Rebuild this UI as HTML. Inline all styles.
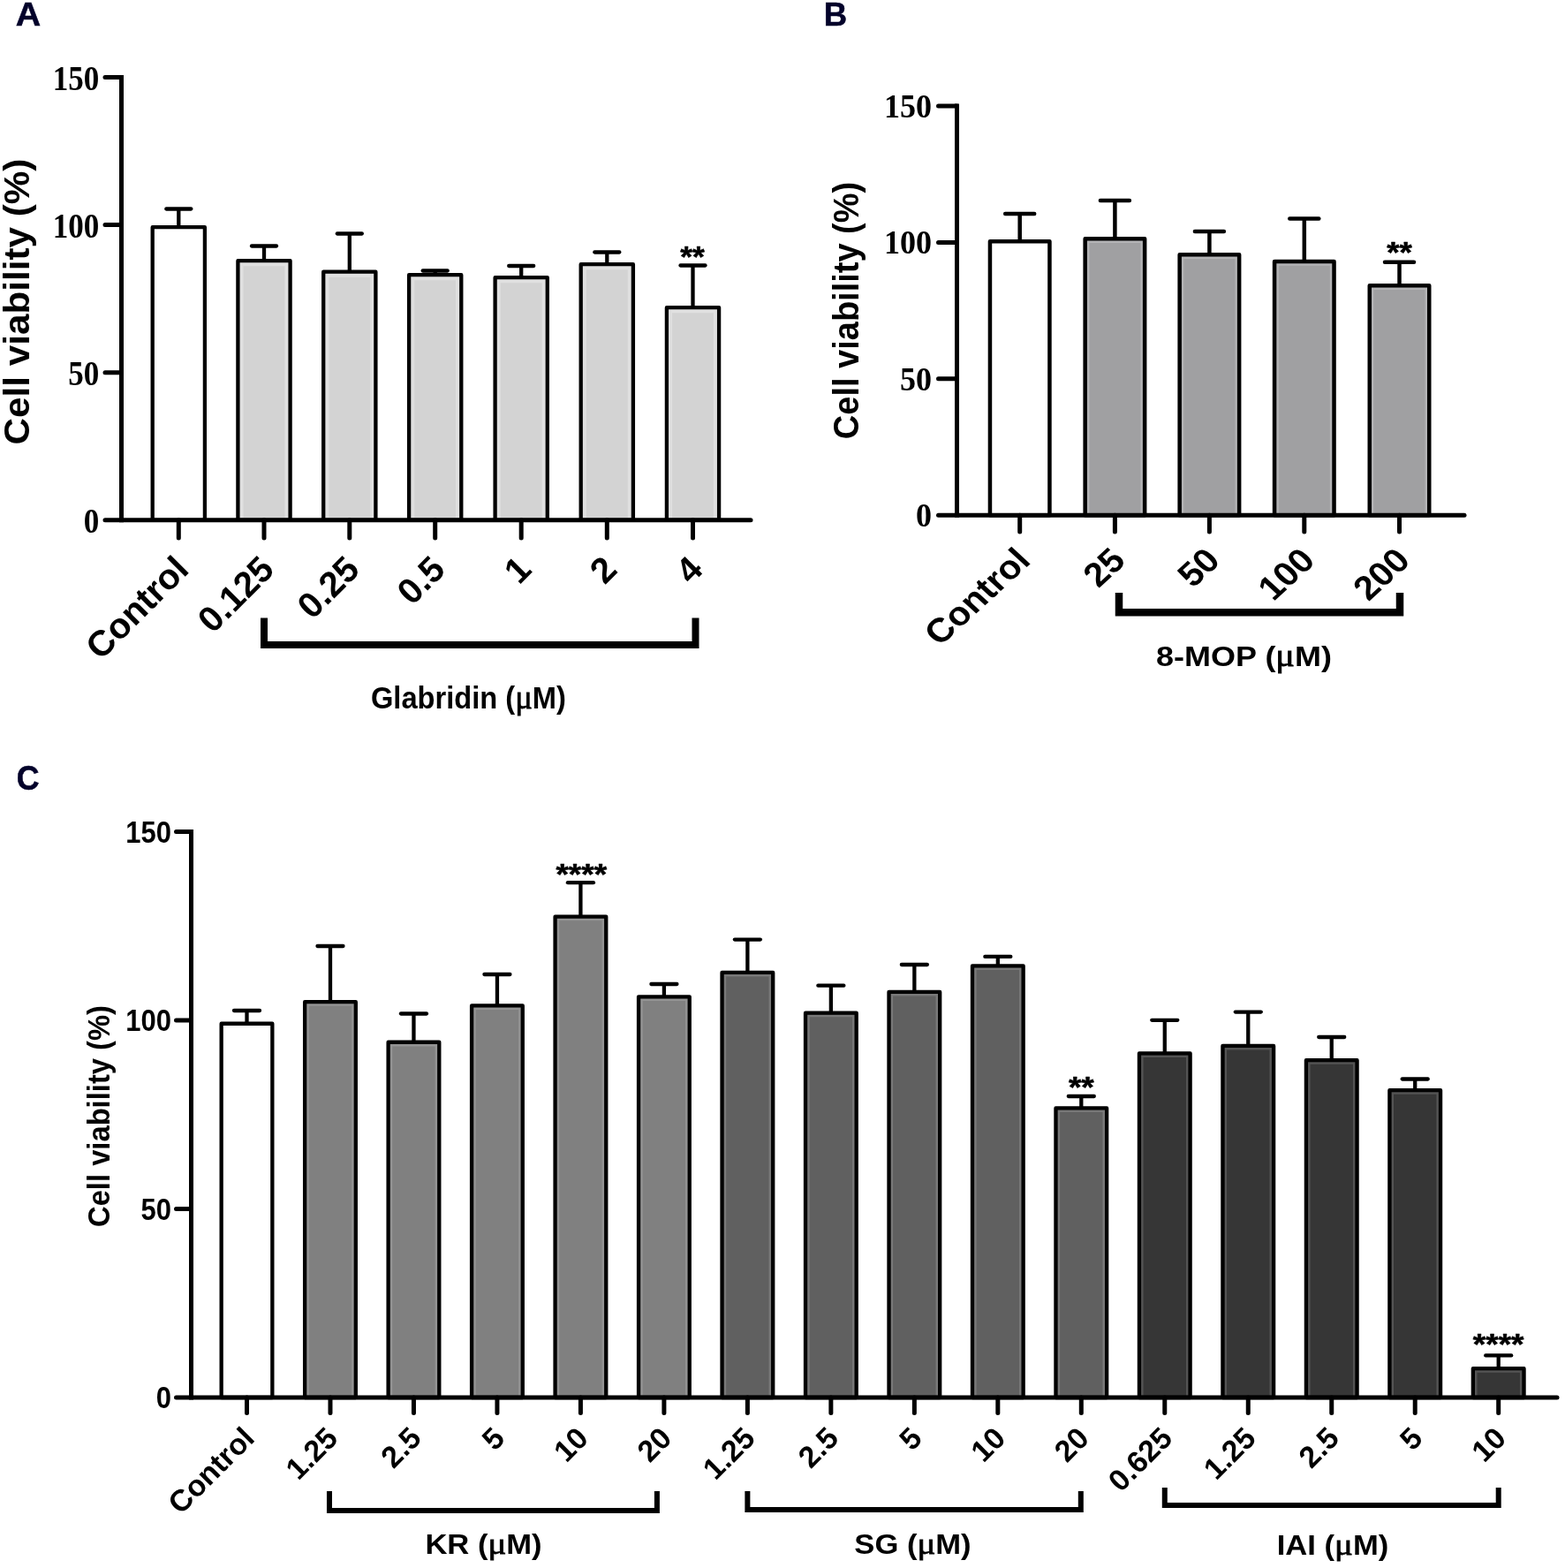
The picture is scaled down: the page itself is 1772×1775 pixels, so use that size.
<!DOCTYPE html>
<html lang="en"><head><meta charset="utf-8"><title>Cell viability</title>
<style>html,body{margin:0;padding:0;background:#fff}svg{display:block}</style></head><body>
<svg width="1772" height="1775" viewBox="0 0 1772 1775">
<rect width="1772" height="1775" fill="#fff"/>
<text transform="translate(17.8 29.1) scale(1.05 1)" font-family='"Liberation Sans", Arial, sans-serif' font-size="37.5" font-weight="bold" text-anchor="start" fill="#03022a" stroke="#03022a" stroke-width="0.5">A</text>
<text transform="translate(932.7 29.1) scale(0.975 1)" font-family='"Liberation Sans", Arial, sans-serif' font-size="37.5" font-weight="bold" text-anchor="start" fill="#03022a" stroke="#03022a" stroke-width="0.5">B</text>
<text transform="translate(18.8 894) scale(0.91 1)" font-family='"Liberation Sans", Arial, sans-serif' font-size="39.3" font-weight="bold" text-anchor="start" fill="#03022a" stroke="#03022a" stroke-width="0.5">C</text>
<g id="panelA">
<rect x="172.7" y="257.15" width="59.2" height="331.65" fill="#fff"/>
<rect x="172.7" y="257.15" width="59.2" height="331.65" fill="none" stroke="#000" stroke-width="4.3" stroke-linejoin="round"/>
<rect x="269.4" y="295.15" width="59.2" height="293.65" fill="#d3d3d3"/>
<path d="M273.55 588.8 V299.3 H324.45 V588.8" fill="none" stroke="#e0e0e0" stroke-width="4"/>
<rect x="269.4" y="295.15" width="59.2" height="293.65" fill="none" stroke="#000" stroke-width="4.3" stroke-linejoin="round"/>
<rect x="366.2" y="307.65" width="59.2" height="281.15" fill="#d3d3d3"/>
<path d="M370.35 588.8 V311.8 H421.25 V588.8" fill="none" stroke="#e0e0e0" stroke-width="4"/>
<rect x="366.2" y="307.65" width="59.2" height="281.15" fill="none" stroke="#000" stroke-width="4.3" stroke-linejoin="round"/>
<rect x="463.1" y="311.15" width="59.2" height="277.65" fill="#d3d3d3"/>
<path d="M467.25 588.8 V315.3 H518.15 V588.8" fill="none" stroke="#e0e0e0" stroke-width="4"/>
<rect x="463.1" y="311.15" width="59.2" height="277.65" fill="none" stroke="#000" stroke-width="4.3" stroke-linejoin="round"/>
<rect x="560.6" y="314.15" width="59.2" height="274.65" fill="#d3d3d3"/>
<path d="M564.75 588.8 V318.3 H615.65 V588.8" fill="none" stroke="#e0e0e0" stroke-width="4"/>
<rect x="560.6" y="314.15" width="59.2" height="274.65" fill="none" stroke="#000" stroke-width="4.3" stroke-linejoin="round"/>
<rect x="657.7" y="299.15" width="59.2" height="289.65" fill="#d3d3d3"/>
<path d="M661.85 588.8 V303.3 H712.75 V588.8" fill="none" stroke="#e0e0e0" stroke-width="4"/>
<rect x="657.7" y="299.15" width="59.2" height="289.65" fill="none" stroke="#000" stroke-width="4.3" stroke-linejoin="round"/>
<rect x="754.9" y="348.15" width="59.2" height="240.65" fill="#d3d3d3"/>
<path d="M759.05 588.8 V352.3 H809.95 V588.8" fill="none" stroke="#e0e0e0" stroke-width="4"/>
<rect x="754.9" y="348.15" width="59.2" height="240.65" fill="none" stroke="#000" stroke-width="4.3" stroke-linejoin="round"/>
<line x1="202.3" y1="236.5" x2="202.3" y2="257" stroke="#000" stroke-width="4.3" stroke-linecap="butt"/>
<line x1="188.3" y1="236.5" x2="216.3" y2="236.5" stroke="#000" stroke-width="4.3" stroke-linecap="round"/>
<line x1="299" y1="278.5" x2="299" y2="295" stroke="#000" stroke-width="4.3" stroke-linecap="butt"/>
<line x1="285" y1="278.5" x2="313" y2="278.5" stroke="#000" stroke-width="4.3" stroke-linecap="round"/>
<line x1="395.8" y1="264.5" x2="395.8" y2="307.5" stroke="#000" stroke-width="4.3" stroke-linecap="butt"/>
<line x1="381.8" y1="264.5" x2="409.8" y2="264.5" stroke="#000" stroke-width="4.3" stroke-linecap="round"/>
<line x1="492.7" y1="306.5" x2="492.7" y2="311" stroke="#000" stroke-width="4.3" stroke-linecap="butt"/>
<line x1="478.7" y1="306.5" x2="506.7" y2="306.5" stroke="#000" stroke-width="4.3" stroke-linecap="round"/>
<line x1="590.2" y1="301" x2="590.2" y2="314" stroke="#000" stroke-width="4.3" stroke-linecap="butt"/>
<line x1="576.2" y1="301" x2="604.2" y2="301" stroke="#000" stroke-width="4.3" stroke-linecap="round"/>
<line x1="687.3" y1="285.5" x2="687.3" y2="299" stroke="#000" stroke-width="4.3" stroke-linecap="butt"/>
<line x1="673.3" y1="285.5" x2="701.3" y2="285.5" stroke="#000" stroke-width="4.3" stroke-linecap="round"/>
<line x1="784.5" y1="300.5" x2="784.5" y2="348" stroke="#000" stroke-width="4.3" stroke-linecap="butt"/>
<line x1="770.5" y1="300.5" x2="798.5" y2="300.5" stroke="#000" stroke-width="4.3" stroke-linecap="round"/>
<line x1="137.5" y1="85" x2="137.5" y2="591.3" stroke="#000" stroke-width="5" stroke-linecap="butt"/>
<line x1="119" y1="588.8" x2="850" y2="588.8" stroke="#000" stroke-width="5" stroke-linecap="round"/>
<line x1="119" y1="421.7" x2="137.5" y2="421.7" stroke="#000" stroke-width="5" stroke-linecap="round"/>
<line x1="119" y1="254.6" x2="137.5" y2="254.6" stroke="#000" stroke-width="5" stroke-linecap="round"/>
<line x1="119" y1="87.5" x2="137.5" y2="87.5" stroke="#000" stroke-width="5" stroke-linecap="round"/>
<line x1="202.3" y1="588.8" x2="202.3" y2="609" stroke="#000" stroke-width="5" stroke-linecap="round"/>
<line x1="299" y1="588.8" x2="299" y2="609" stroke="#000" stroke-width="5" stroke-linecap="round"/>
<line x1="395.8" y1="588.8" x2="395.8" y2="609" stroke="#000" stroke-width="5" stroke-linecap="round"/>
<line x1="492.7" y1="588.8" x2="492.7" y2="609" stroke="#000" stroke-width="5" stroke-linecap="round"/>
<line x1="590.2" y1="588.8" x2="590.2" y2="609" stroke="#000" stroke-width="5" stroke-linecap="round"/>
<line x1="687.3" y1="588.8" x2="687.3" y2="609" stroke="#000" stroke-width="5" stroke-linecap="round"/>
<line x1="784.5" y1="588.8" x2="784.5" y2="609" stroke="#000" stroke-width="5" stroke-linecap="round"/>
<text transform="translate(112.3 603.4) scale(0.885 1)" font-family='"Liberation Serif", "Times New Roman", serif' font-size="39.6" font-weight="bold" text-anchor="end" fill="#000">0</text>
<text transform="translate(112.3 436.3) scale(0.885 1)" font-family='"Liberation Serif", "Times New Roman", serif' font-size="39.6" font-weight="bold" text-anchor="end" fill="#000">50</text>
<text transform="translate(112.3 269.2) scale(0.885 1)" font-family='"Liberation Serif", "Times New Roman", serif' font-size="39.6" font-weight="bold" text-anchor="end" fill="#000">100</text>
<text transform="translate(112.3 102.1) scale(0.885 1)" font-family='"Liberation Serif", "Times New Roman", serif' font-size="39.6" font-weight="bold" text-anchor="end" fill="#000">150</text>
<text transform="translate(215.8 646.7) rotate(-45)" font-family='"Liberation Sans", Arial, sans-serif' font-size="40.5" font-weight="bold" text-anchor="end" fill="#000">Control</text>
<text transform="translate(312.5 646.7) rotate(-45)" font-family='"Liberation Sans", Arial, sans-serif' font-size="40.5" font-weight="bold" text-anchor="end" fill="#000">0.125</text>
<text transform="translate(409.3 646.7) rotate(-45)" font-family='"Liberation Sans", Arial, sans-serif' font-size="40.5" font-weight="bold" text-anchor="end" fill="#000">0.25</text>
<text transform="translate(506.2 646.7) rotate(-45)" font-family='"Liberation Sans", Arial, sans-serif' font-size="40.5" font-weight="bold" text-anchor="end" fill="#000">0.5</text>
<text transform="translate(603.7 646.7) rotate(-45)" font-family='"Liberation Sans", Arial, sans-serif' font-size="40.5" font-weight="bold" text-anchor="end" fill="#000">1</text>
<text transform="translate(700.8 646.7) rotate(-45)" font-family='"Liberation Sans", Arial, sans-serif' font-size="40.5" font-weight="bold" text-anchor="end" fill="#000">2</text>
<text transform="translate(798 646.7) rotate(-45)" font-family='"Liberation Sans", Arial, sans-serif' font-size="40.5" font-weight="bold" text-anchor="end" fill="#000">4</text>
<text transform="translate(33.3 341.5) rotate(-90) scale(1.03 1)" font-family='"Liberation Sans", Arial, sans-serif' font-size="41" font-weight="bold" text-anchor="middle" fill="#000">Cell viability (%)</text>
<path d="M299 699.5 V730 H787.5 V699.5" fill="none" stroke="#000" stroke-width="8" stroke-linejoin="miter"/>
<text transform="translate(530.4 802.3) scale(0.947 1)" font-family='"Liberation Sans", Arial, sans-serif' font-size="34.5" font-weight="bold" text-anchor="middle" fill="#000">Glabridin (<tspan font-family='"Liberation Serif", "Times New Roman", serif' font-weight="normal" font-size="112%" stroke="#000" stroke-width="0.8">μ</tspan>M)</text>
<text transform="translate(784 302.24) scale(1.04 1)" font-family='"Liberation Sans", Arial, sans-serif' font-size="34" font-weight="bold" text-anchor="middle" fill="#000" stroke="#000" stroke-width="0.6" stroke-linejoin="round">**</text>
</g>
<g id="panelB">
<rect x="1120.95" y="273.25" width="67.5" height="310.05" fill="#fff"/>
<rect x="1120.95" y="273.25" width="67.5" height="310.05" fill="none" stroke="#000" stroke-width="4.5" stroke-linejoin="round"/>
<rect x="1228.65" y="270.25" width="67.5" height="313.05" fill="#a0a0a2"/>
<path d="M1232.15 583.3 V273.75 H1292.65 V583.3" fill="none" stroke="#b3b3b5" stroke-width="2.5"/>
<rect x="1228.65" y="270.25" width="67.5" height="313.05" fill="none" stroke="#000" stroke-width="4.5" stroke-linejoin="round"/>
<rect x="1335.65" y="288.25" width="67.5" height="295.05" fill="#a0a0a2"/>
<path d="M1339.15 583.3 V291.75 H1399.65 V583.3" fill="none" stroke="#b3b3b5" stroke-width="2.5"/>
<rect x="1335.65" y="288.25" width="67.5" height="295.05" fill="none" stroke="#000" stroke-width="4.5" stroke-linejoin="round"/>
<rect x="1443.05" y="295.95" width="67.5" height="287.35" fill="#a0a0a2"/>
<path d="M1446.55 583.3 V299.45 H1507.05 V583.3" fill="none" stroke="#b3b3b5" stroke-width="2.5"/>
<rect x="1443.05" y="295.95" width="67.5" height="287.35" fill="none" stroke="#000" stroke-width="4.5" stroke-linejoin="round"/>
<rect x="1550.75" y="323.25" width="67.5" height="260.05" fill="#a0a0a2"/>
<path d="M1554.25 583.3 V326.75 H1614.75 V583.3" fill="none" stroke="#b3b3b5" stroke-width="2.5"/>
<rect x="1550.75" y="323.25" width="67.5" height="260.05" fill="none" stroke="#000" stroke-width="4.5" stroke-linejoin="round"/>
<line x1="1154.7" y1="242" x2="1154.7" y2="273" stroke="#000" stroke-width="4.5" stroke-linecap="butt"/>
<line x1="1138.2" y1="242" x2="1171.2" y2="242" stroke="#000" stroke-width="4.5" stroke-linecap="round"/>
<line x1="1262.4" y1="227" x2="1262.4" y2="270" stroke="#000" stroke-width="4.5" stroke-linecap="butt"/>
<line x1="1245.9" y1="227" x2="1278.9" y2="227" stroke="#000" stroke-width="4.5" stroke-linecap="round"/>
<line x1="1369.4" y1="262" x2="1369.4" y2="288" stroke="#000" stroke-width="4.5" stroke-linecap="butt"/>
<line x1="1352.9" y1="262" x2="1385.9" y2="262" stroke="#000" stroke-width="4.5" stroke-linecap="round"/>
<line x1="1476.8" y1="247.5" x2="1476.8" y2="295.7" stroke="#000" stroke-width="4.5" stroke-linecap="butt"/>
<line x1="1460.3" y1="247.5" x2="1493.3" y2="247.5" stroke="#000" stroke-width="4.5" stroke-linecap="round"/>
<line x1="1584.5" y1="296.7" x2="1584.5" y2="323" stroke="#000" stroke-width="4.5" stroke-linecap="butt"/>
<line x1="1568" y1="296.7" x2="1601" y2="296.7" stroke="#000" stroke-width="4.5" stroke-linecap="round"/>
<line x1="1083.5" y1="117.5" x2="1083.5" y2="585.8" stroke="#000" stroke-width="5" stroke-linecap="butt"/>
<line x1="1062.5" y1="583.3" x2="1658" y2="583.3" stroke="#000" stroke-width="5" stroke-linecap="round"/>
<line x1="1062.5" y1="428.87" x2="1083.5" y2="428.87" stroke="#000" stroke-width="5" stroke-linecap="round"/>
<line x1="1062.5" y1="274.43" x2="1083.5" y2="274.43" stroke="#000" stroke-width="5" stroke-linecap="round"/>
<line x1="1062.5" y1="120" x2="1083.5" y2="120" stroke="#000" stroke-width="5" stroke-linecap="round"/>
<line x1="1154.7" y1="583.3" x2="1154.7" y2="602" stroke="#000" stroke-width="5" stroke-linecap="round"/>
<line x1="1262.4" y1="583.3" x2="1262.4" y2="602" stroke="#000" stroke-width="5" stroke-linecap="round"/>
<line x1="1369.4" y1="583.3" x2="1369.4" y2="602" stroke="#000" stroke-width="5" stroke-linecap="round"/>
<line x1="1476.8" y1="583.3" x2="1476.8" y2="602" stroke="#000" stroke-width="5" stroke-linecap="round"/>
<line x1="1584.5" y1="583.3" x2="1584.5" y2="602" stroke="#000" stroke-width="5" stroke-linecap="round"/>
<text transform="translate(1055 596.3) scale(0.946 1)" font-family='"Liberation Serif", "Times New Roman", serif' font-size="38.1" font-weight="bold" text-anchor="end" fill="#000">0</text>
<text transform="translate(1055 441.87) scale(0.946 1)" font-family='"Liberation Serif", "Times New Roman", serif' font-size="38.1" font-weight="bold" text-anchor="end" fill="#000">50</text>
<text transform="translate(1055 287.43) scale(0.946 1)" font-family='"Liberation Serif", "Times New Roman", serif' font-size="38.1" font-weight="bold" text-anchor="end" fill="#000">100</text>
<text transform="translate(1055 133) scale(0.946 1)" font-family='"Liberation Serif", "Times New Roman", serif' font-size="38.1" font-weight="bold" text-anchor="end" fill="#000">150</text>
<text transform="translate(1168.7 636.4) scale(1.09 1) rotate(-45)" font-family='"Liberation Sans", Arial, sans-serif' font-size="38.2" font-weight="bold" text-anchor="end" fill="#000">Control</text>
<text transform="translate(1276.4 636.4) scale(1.09 1) rotate(-45)" font-family='"Liberation Sans", Arial, sans-serif' font-size="38.2" font-weight="bold" text-anchor="end" fill="#000">25</text>
<text transform="translate(1383.4 636.4) scale(1.09 1) rotate(-45)" font-family='"Liberation Sans", Arial, sans-serif' font-size="38.2" font-weight="bold" text-anchor="end" fill="#000">50</text>
<text transform="translate(1490.8 636.4) scale(1.09 1) rotate(-45)" font-family='"Liberation Sans", Arial, sans-serif' font-size="38.2" font-weight="bold" text-anchor="end" fill="#000">100</text>
<text transform="translate(1598.5 636.4) scale(1.09 1) rotate(-45)" font-family='"Liberation Sans", Arial, sans-serif' font-size="38.2" font-weight="bold" text-anchor="end" fill="#000">200</text>
<text transform="translate(972 351.5) rotate(-90) scale(0.95 1)" font-family='"Liberation Sans", Arial, sans-serif' font-size="40" font-weight="bold" text-anchor="middle" fill="#000">Cell viability (%)</text>
<path d="M1267 671 V693.3 H1585 V671" fill="none" stroke="#000" stroke-width="8.5" stroke-linejoin="miter"/>
<text transform="translate(1408.5 754.4) scale(1.125 1)" font-family='"Liberation Sans", Arial, sans-serif' font-size="32" font-weight="bold" text-anchor="middle" fill="#000">8-MOP (<tspan font-family='"Liberation Serif", "Times New Roman", serif' font-weight="normal" font-size="112%" stroke="#000" stroke-width="0.8">μ</tspan>M)</text>
<text transform="translate(1584.5 296.74) scale(1.08 1)" font-family='"Liberation Sans", Arial, sans-serif' font-size="34" font-weight="bold" text-anchor="middle" fill="#000" stroke="#000" stroke-width="0.6" stroke-linejoin="round">**</text>
</g>
<g id="panelC">
<rect x="250.65" y="1158.75" width="57.7" height="423.25" fill="#fff"/>
<rect x="250.65" y="1158.75" width="57.7" height="423.25" fill="none" stroke="#000" stroke-width="4.3" stroke-linejoin="round"/>
<rect x="345.13" y="1134.15" width="57.7" height="447.85" fill="#808080"/>
<path d="M348.53 1582 V1137.55 H399.43 V1582" fill="none" stroke="#939393" stroke-width="2.5"/>
<rect x="345.13" y="1134.15" width="57.7" height="447.85" fill="none" stroke="#000" stroke-width="4.3" stroke-linejoin="round"/>
<rect x="439.61" y="1179.75" width="57.7" height="402.25" fill="#808080"/>
<path d="M443.01 1582 V1183.15 H493.91 V1582" fill="none" stroke="#939393" stroke-width="2.5"/>
<rect x="439.61" y="1179.75" width="57.7" height="402.25" fill="none" stroke="#000" stroke-width="4.3" stroke-linejoin="round"/>
<rect x="534.09" y="1138.45" width="57.7" height="443.55" fill="#808080"/>
<path d="M537.49 1582 V1141.85 H588.39 V1582" fill="none" stroke="#939393" stroke-width="2.5"/>
<rect x="534.09" y="1138.45" width="57.7" height="443.55" fill="none" stroke="#000" stroke-width="4.3" stroke-linejoin="round"/>
<rect x="628.57" y="1037.65" width="57.7" height="544.35" fill="#808080"/>
<path d="M631.97 1582 V1041.05 H682.87 V1582" fill="none" stroke="#939393" stroke-width="2.5"/>
<rect x="628.57" y="1037.65" width="57.7" height="544.35" fill="none" stroke="#000" stroke-width="4.3" stroke-linejoin="round"/>
<rect x="723.05" y="1128.35" width="57.7" height="453.65" fill="#808080"/>
<path d="M726.45 1582 V1131.75 H777.35 V1582" fill="none" stroke="#939393" stroke-width="2.5"/>
<rect x="723.05" y="1128.35" width="57.7" height="453.65" fill="none" stroke="#000" stroke-width="4.3" stroke-linejoin="round"/>
<rect x="817.53" y="1100.95" width="57.7" height="481.05" fill="#606060"/>
<path d="M820.93 1582 V1104.35 H871.83 V1582" fill="none" stroke="#787878" stroke-width="2.5"/>
<rect x="817.53" y="1100.95" width="57.7" height="481.05" fill="none" stroke="#000" stroke-width="4.3" stroke-linejoin="round"/>
<rect x="912.01" y="1146.65" width="57.7" height="435.35" fill="#606060"/>
<path d="M915.41 1582 V1150.05 H966.31 V1582" fill="none" stroke="#787878" stroke-width="2.5"/>
<rect x="912.01" y="1146.65" width="57.7" height="435.35" fill="none" stroke="#000" stroke-width="4.3" stroke-linejoin="round"/>
<rect x="1006.49" y="1122.95" width="57.7" height="459.05" fill="#606060"/>
<path d="M1009.89 1582 V1126.35 H1060.79 V1582" fill="none" stroke="#787878" stroke-width="2.5"/>
<rect x="1006.49" y="1122.95" width="57.7" height="459.05" fill="none" stroke="#000" stroke-width="4.3" stroke-linejoin="round"/>
<rect x="1100.97" y="1093.45" width="57.7" height="488.55" fill="#606060"/>
<path d="M1104.37 1582 V1096.85 H1155.27 V1582" fill="none" stroke="#787878" stroke-width="2.5"/>
<rect x="1100.97" y="1093.45" width="57.7" height="488.55" fill="none" stroke="#000" stroke-width="4.3" stroke-linejoin="round"/>
<rect x="1195.45" y="1254.45" width="57.7" height="327.55" fill="#606060"/>
<path d="M1198.85 1582 V1257.85 H1249.75 V1582" fill="none" stroke="#787878" stroke-width="2.5"/>
<rect x="1195.45" y="1254.45" width="57.7" height="327.55" fill="none" stroke="#000" stroke-width="4.3" stroke-linejoin="round"/>
<rect x="1289.93" y="1192.45" width="57.7" height="389.55" fill="#363636"/>
<path d="M1293.33 1582 V1195.85 H1344.23 V1582" fill="none" stroke="#545454" stroke-width="2.5"/>
<rect x="1289.93" y="1192.45" width="57.7" height="389.55" fill="none" stroke="#000" stroke-width="4.3" stroke-linejoin="round"/>
<rect x="1384.41" y="1183.95" width="57.7" height="398.05" fill="#363636"/>
<path d="M1387.81 1582 V1187.35 H1438.71 V1582" fill="none" stroke="#545454" stroke-width="2.5"/>
<rect x="1384.41" y="1183.95" width="57.7" height="398.05" fill="none" stroke="#000" stroke-width="4.3" stroke-linejoin="round"/>
<rect x="1478.89" y="1200.15" width="57.7" height="381.85" fill="#363636"/>
<path d="M1482.29 1582 V1203.55 H1533.19 V1582" fill="none" stroke="#545454" stroke-width="2.5"/>
<rect x="1478.89" y="1200.15" width="57.7" height="381.85" fill="none" stroke="#000" stroke-width="4.3" stroke-linejoin="round"/>
<rect x="1573.37" y="1234.15" width="57.7" height="347.85" fill="#363636"/>
<path d="M1576.77 1582 V1237.55 H1627.67 V1582" fill="none" stroke="#545454" stroke-width="2.5"/>
<rect x="1573.37" y="1234.15" width="57.7" height="347.85" fill="none" stroke="#000" stroke-width="4.3" stroke-linejoin="round"/>
<rect x="1667.85" y="1549.15" width="57.7" height="32.85" fill="#363636"/>
<path d="M1671.25 1582 V1552.55 H1722.15 V1582" fill="none" stroke="#545454" stroke-width="2.5"/>
<rect x="1667.85" y="1549.15" width="57.7" height="32.85" fill="none" stroke="#000" stroke-width="4.3" stroke-linejoin="round"/>
<line x1="279.5" y1="1144" x2="279.5" y2="1158.6" stroke="#000" stroke-width="4.3" stroke-linecap="butt"/>
<line x1="265" y1="1144" x2="294" y2="1144" stroke="#000" stroke-width="4.3" stroke-linecap="round"/>
<line x1="373.98" y1="1071" x2="373.98" y2="1134" stroke="#000" stroke-width="4.3" stroke-linecap="butt"/>
<line x1="359.48" y1="1071" x2="388.48" y2="1071" stroke="#000" stroke-width="4.3" stroke-linecap="round"/>
<line x1="468.46" y1="1147.5" x2="468.46" y2="1179.6" stroke="#000" stroke-width="4.3" stroke-linecap="butt"/>
<line x1="453.96" y1="1147.5" x2="482.96" y2="1147.5" stroke="#000" stroke-width="4.3" stroke-linecap="round"/>
<line x1="562.94" y1="1103" x2="562.94" y2="1138.3" stroke="#000" stroke-width="4.3" stroke-linecap="butt"/>
<line x1="548.44" y1="1103" x2="577.44" y2="1103" stroke="#000" stroke-width="4.3" stroke-linecap="round"/>
<line x1="657.42" y1="999.2" x2="657.42" y2="1037.5" stroke="#000" stroke-width="4.3" stroke-linecap="butt"/>
<line x1="642.92" y1="999.2" x2="671.92" y2="999.2" stroke="#000" stroke-width="4.3" stroke-linecap="round"/>
<line x1="751.9" y1="1114" x2="751.9" y2="1128.2" stroke="#000" stroke-width="4.3" stroke-linecap="butt"/>
<line x1="737.4" y1="1114" x2="766.4" y2="1114" stroke="#000" stroke-width="4.3" stroke-linecap="round"/>
<line x1="846.38" y1="1063.6" x2="846.38" y2="1100.8" stroke="#000" stroke-width="4.3" stroke-linecap="butt"/>
<line x1="831.88" y1="1063.6" x2="860.88" y2="1063.6" stroke="#000" stroke-width="4.3" stroke-linecap="round"/>
<line x1="940.86" y1="1115.7" x2="940.86" y2="1146.5" stroke="#000" stroke-width="4.3" stroke-linecap="butt"/>
<line x1="926.36" y1="1115.7" x2="955.36" y2="1115.7" stroke="#000" stroke-width="4.3" stroke-linecap="round"/>
<line x1="1035.34" y1="1092" x2="1035.34" y2="1122.8" stroke="#000" stroke-width="4.3" stroke-linecap="butt"/>
<line x1="1020.84" y1="1092" x2="1049.84" y2="1092" stroke="#000" stroke-width="4.3" stroke-linecap="round"/>
<line x1="1129.82" y1="1082.9" x2="1129.82" y2="1093.3" stroke="#000" stroke-width="4.3" stroke-linecap="butt"/>
<line x1="1115.32" y1="1082.9" x2="1144.32" y2="1082.9" stroke="#000" stroke-width="4.3" stroke-linecap="round"/>
<line x1="1224.3" y1="1241" x2="1224.3" y2="1254.3" stroke="#000" stroke-width="4.3" stroke-linecap="butt"/>
<line x1="1209.8" y1="1241" x2="1238.8" y2="1241" stroke="#000" stroke-width="4.3" stroke-linecap="round"/>
<line x1="1318.78" y1="1154.8" x2="1318.78" y2="1192.3" stroke="#000" stroke-width="4.3" stroke-linecap="butt"/>
<line x1="1304.28" y1="1154.8" x2="1333.28" y2="1154.8" stroke="#000" stroke-width="4.3" stroke-linecap="round"/>
<line x1="1413.26" y1="1145.6" x2="1413.26" y2="1183.8" stroke="#000" stroke-width="4.3" stroke-linecap="butt"/>
<line x1="1398.76" y1="1145.6" x2="1427.76" y2="1145.6" stroke="#000" stroke-width="4.3" stroke-linecap="round"/>
<line x1="1507.74" y1="1174" x2="1507.74" y2="1200" stroke="#000" stroke-width="4.3" stroke-linecap="butt"/>
<line x1="1493.24" y1="1174" x2="1522.24" y2="1174" stroke="#000" stroke-width="4.3" stroke-linecap="round"/>
<line x1="1602.22" y1="1221.5" x2="1602.22" y2="1234" stroke="#000" stroke-width="4.3" stroke-linecap="butt"/>
<line x1="1587.72" y1="1221.5" x2="1616.72" y2="1221.5" stroke="#000" stroke-width="4.3" stroke-linecap="round"/>
<line x1="1696.7" y1="1534.4" x2="1696.7" y2="1549" stroke="#000" stroke-width="4.3" stroke-linecap="butt"/>
<line x1="1682.2" y1="1534.4" x2="1711.2" y2="1534.4" stroke="#000" stroke-width="4.3" stroke-linecap="round"/>
<line x1="216.5" y1="939.1" x2="216.5" y2="1584.5" stroke="#000" stroke-width="5" stroke-linecap="butt"/>
<line x1="199.5" y1="1582" x2="1763" y2="1582" stroke="#000" stroke-width="5" stroke-linecap="round"/>
<line x1="199.5" y1="1368.53" x2="216.5" y2="1368.53" stroke="#000" stroke-width="5" stroke-linecap="round"/>
<line x1="199.5" y1="1155.07" x2="216.5" y2="1155.07" stroke="#000" stroke-width="5" stroke-linecap="round"/>
<line x1="199.5" y1="941.6" x2="216.5" y2="941.6" stroke="#000" stroke-width="5" stroke-linecap="round"/>
<line x1="279.5" y1="1582" x2="279.5" y2="1599.5" stroke="#000" stroke-width="5" stroke-linecap="round"/>
<line x1="373.98" y1="1582" x2="373.98" y2="1599.5" stroke="#000" stroke-width="5" stroke-linecap="round"/>
<line x1="468.46" y1="1582" x2="468.46" y2="1599.5" stroke="#000" stroke-width="5" stroke-linecap="round"/>
<line x1="562.94" y1="1582" x2="562.94" y2="1599.5" stroke="#000" stroke-width="5" stroke-linecap="round"/>
<line x1="657.42" y1="1582" x2="657.42" y2="1599.5" stroke="#000" stroke-width="5" stroke-linecap="round"/>
<line x1="751.9" y1="1582" x2="751.9" y2="1599.5" stroke="#000" stroke-width="5" stroke-linecap="round"/>
<line x1="846.38" y1="1582" x2="846.38" y2="1599.5" stroke="#000" stroke-width="5" stroke-linecap="round"/>
<line x1="940.86" y1="1582" x2="940.86" y2="1599.5" stroke="#000" stroke-width="5" stroke-linecap="round"/>
<line x1="1035.34" y1="1582" x2="1035.34" y2="1599.5" stroke="#000" stroke-width="5" stroke-linecap="round"/>
<line x1="1129.82" y1="1582" x2="1129.82" y2="1599.5" stroke="#000" stroke-width="5" stroke-linecap="round"/>
<line x1="1224.3" y1="1582" x2="1224.3" y2="1599.5" stroke="#000" stroke-width="5" stroke-linecap="round"/>
<line x1="1318.78" y1="1582" x2="1318.78" y2="1599.5" stroke="#000" stroke-width="5" stroke-linecap="round"/>
<line x1="1413.26" y1="1582" x2="1413.26" y2="1599.5" stroke="#000" stroke-width="5" stroke-linecap="round"/>
<line x1="1507.74" y1="1582" x2="1507.74" y2="1599.5" stroke="#000" stroke-width="5" stroke-linecap="round"/>
<line x1="1602.22" y1="1582" x2="1602.22" y2="1599.5" stroke="#000" stroke-width="5" stroke-linecap="round"/>
<line x1="1696.7" y1="1582" x2="1696.7" y2="1599.5" stroke="#000" stroke-width="5" stroke-linecap="round"/>
<text transform="translate(194 1594.4) scale(0.905 1)" font-family='"Liberation Sans", Arial, sans-serif' font-size="34.2" font-weight="bold" text-anchor="end" fill="#000">0</text>
<text transform="translate(194 1380.93) scale(0.905 1)" font-family='"Liberation Sans", Arial, sans-serif' font-size="34.2" font-weight="bold" text-anchor="end" fill="#000">50</text>
<text transform="translate(194 1167.47) scale(0.905 1)" font-family='"Liberation Sans", Arial, sans-serif' font-size="34.2" font-weight="bold" text-anchor="end" fill="#000">100</text>
<text transform="translate(194 954) scale(0.905 1)" font-family='"Liberation Sans", Arial, sans-serif' font-size="34.2" font-weight="bold" text-anchor="end" fill="#000">150</text>
<text transform="translate(290 1630) rotate(-45)" font-family='"Liberation Sans", Arial, sans-serif' font-size="34" font-weight="bold" text-anchor="end" fill="#000">Control</text>
<text transform="translate(384.48 1630) rotate(-45)" font-family='"Liberation Sans", Arial, sans-serif' font-size="34" font-weight="bold" text-anchor="end" fill="#000">1.25</text>
<text transform="translate(478.96 1630) rotate(-45)" font-family='"Liberation Sans", Arial, sans-serif' font-size="34" font-weight="bold" text-anchor="end" fill="#000">2.5</text>
<text transform="translate(573.44 1630) rotate(-45)" font-family='"Liberation Sans", Arial, sans-serif' font-size="34" font-weight="bold" text-anchor="end" fill="#000">5</text>
<text transform="translate(667.92 1630) rotate(-45)" font-family='"Liberation Sans", Arial, sans-serif' font-size="34" font-weight="bold" text-anchor="end" fill="#000">10</text>
<text transform="translate(762.4 1630) rotate(-45)" font-family='"Liberation Sans", Arial, sans-serif' font-size="34" font-weight="bold" text-anchor="end" fill="#000">20</text>
<text transform="translate(856.88 1630) rotate(-45)" font-family='"Liberation Sans", Arial, sans-serif' font-size="34" font-weight="bold" text-anchor="end" fill="#000">1.25</text>
<text transform="translate(951.36 1630) rotate(-45)" font-family='"Liberation Sans", Arial, sans-serif' font-size="34" font-weight="bold" text-anchor="end" fill="#000">2.5</text>
<text transform="translate(1045.84 1630) rotate(-45)" font-family='"Liberation Sans", Arial, sans-serif' font-size="34" font-weight="bold" text-anchor="end" fill="#000">5</text>
<text transform="translate(1140.32 1630) rotate(-45)" font-family='"Liberation Sans", Arial, sans-serif' font-size="34" font-weight="bold" text-anchor="end" fill="#000">10</text>
<text transform="translate(1234.8 1630) rotate(-45)" font-family='"Liberation Sans", Arial, sans-serif' font-size="34" font-weight="bold" text-anchor="end" fill="#000">20</text>
<text transform="translate(1329.28 1630) rotate(-45)" font-family='"Liberation Sans", Arial, sans-serif' font-size="34" font-weight="bold" text-anchor="end" fill="#000">0.625</text>
<text transform="translate(1423.76 1630) rotate(-45)" font-family='"Liberation Sans", Arial, sans-serif' font-size="34" font-weight="bold" text-anchor="end" fill="#000">1.25</text>
<text transform="translate(1518.24 1630) rotate(-45)" font-family='"Liberation Sans", Arial, sans-serif' font-size="34" font-weight="bold" text-anchor="end" fill="#000">2.5</text>
<text transform="translate(1612.72 1630) rotate(-45)" font-family='"Liberation Sans", Arial, sans-serif' font-size="34" font-weight="bold" text-anchor="end" fill="#000">5</text>
<text transform="translate(1707.2 1630) rotate(-45)" font-family='"Liberation Sans", Arial, sans-serif' font-size="34" font-weight="bold" text-anchor="end" fill="#000">10</text>
<text transform="translate(123.5 1263.5) rotate(-90) scale(0.93 1)" font-family='"Liberation Sans", Arial, sans-serif' font-size="35.2" font-weight="bold" text-anchor="middle" fill="#000">Cell viability (%)</text>
<path d="M372.98 1688 V1710 H743.9 V1688" fill="none" stroke="#000" stroke-width="6" stroke-linejoin="miter"/>
<path d="M846.38 1688 V1709 H1223.8 V1688" fill="none" stroke="#000" stroke-width="6" stroke-linejoin="miter"/>
<path d="M1318.78 1684 V1704 H1696.7 V1684" fill="none" stroke="#000" stroke-width="6" stroke-linejoin="miter"/>
<text transform="translate(547.5 1759) scale(1.124 1)" font-family='"Liberation Sans", Arial, sans-serif' font-size="30.8" font-weight="bold" text-anchor="middle" fill="#000">KR (<tspan font-family='"Liberation Serif", "Times New Roman", serif' font-weight="normal" font-size="112%" stroke="#000" stroke-width="0.8">μ</tspan>M)</text>
<text transform="translate(1033.5 1759) scale(1.124 1)" font-family='"Liberation Sans", Arial, sans-serif' font-size="30.8" font-weight="bold" text-anchor="middle" fill="#000">SG (<tspan font-family='"Liberation Serif", "Times New Roman", serif' font-weight="normal" font-size="112%" stroke="#000" stroke-width="0.8">μ</tspan>M)</text>
<text transform="translate(1509 1759.5) scale(1.124 1)" font-family='"Liberation Sans", Arial, sans-serif' font-size="30.8" font-weight="bold" text-anchor="middle" fill="#000">IAI (<tspan font-family='"Liberation Serif", "Times New Roman", serif' font-weight="normal" font-size="112%" stroke="#000" stroke-width="0.8">μ</tspan>M)</text>
<text transform="translate(658.22 1001.24) scale(1.09 1)" font-family='"Liberation Sans", Arial, sans-serif' font-size="34" font-weight="bold" text-anchor="middle" fill="#000" stroke="#000" stroke-width="0.6" stroke-linejoin="round">****</text>
<text transform="translate(1224.3 1242.24) scale(1.09 1)" font-family='"Liberation Sans", Arial, sans-serif' font-size="34" font-weight="bold" text-anchor="middle" fill="#000" stroke="#000" stroke-width="0.6" stroke-linejoin="round">**</text>
<text transform="translate(1696.7 1533.24) scale(1.09 1)" font-family='"Liberation Sans", Arial, sans-serif' font-size="34" font-weight="bold" text-anchor="middle" fill="#000" stroke="#000" stroke-width="0.6" stroke-linejoin="round">****</text>
</g>
</svg></body></html>
